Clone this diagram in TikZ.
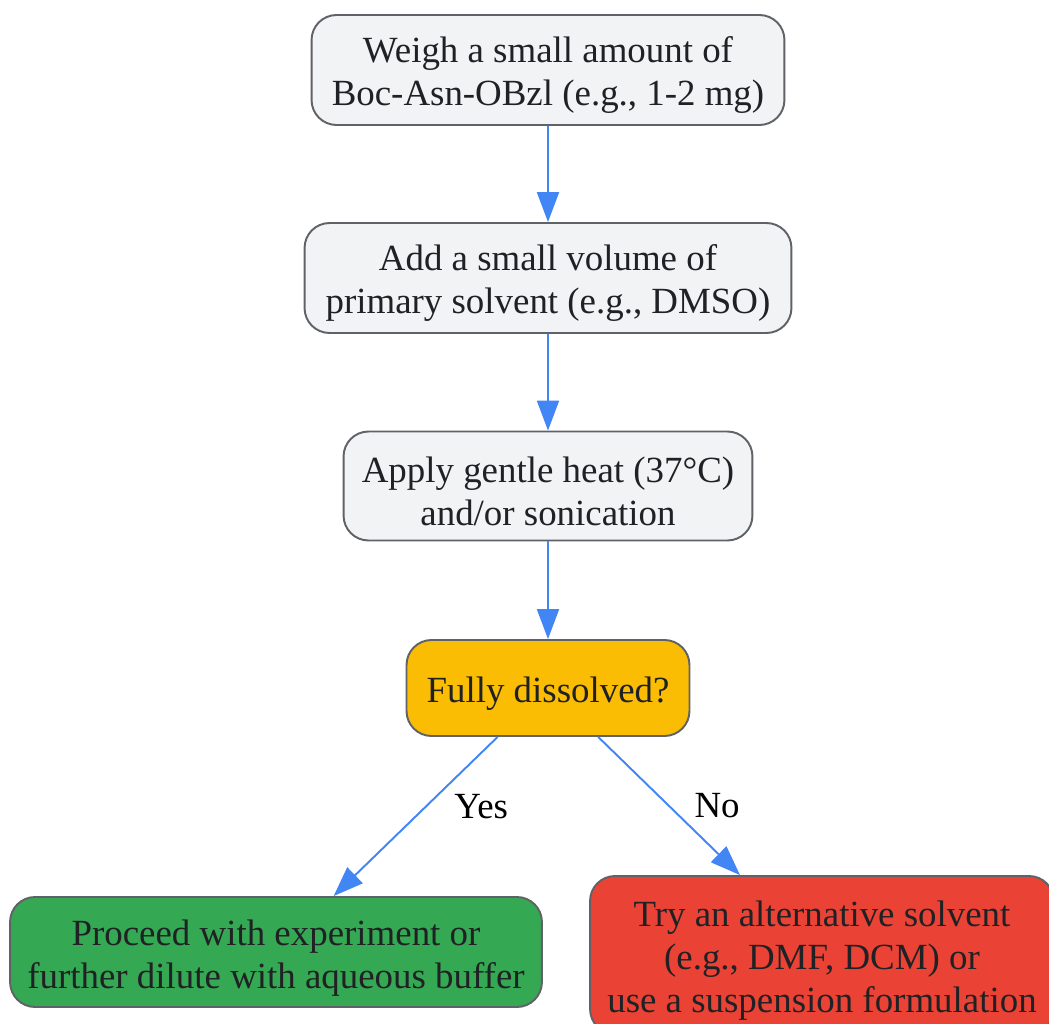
\documentclass[tikz,border=0pt]{standalone}
\usepackage{fontspec}
\setmainfont{Liberation Serif}
\usetikzlibrary{arrows.meta}

\definecolor{boxgray}{HTML}{F1F3F4}
\definecolor{edgegray}{HTML}{5F6368}
\definecolor{amber}{HTML}{FBBC04}
\definecolor{okgreen}{HTML}{34A853}
\definecolor{badred}{HTML}{EA4335}
\definecolor{flowblue}{HTML}{4285F4}
\definecolor{inkgray}{HTML}{202124}
\newcommand{\boxstrut}{\rule{0pt}{1em}}

\begin{document}
\begin{tikzpicture}[x=0.02cm,y=-0.02cm,
		stepbox/.style={draw=edgegray,line width=1.1pt,rounded corners=0.5cm,fill=boxgray,
			align=center,text=inkgray,inner sep=0pt,
			font=\fontsize{21pt}{24.5pt}\selectfont},
		flow/.style={draw=flowblue,line width=1.1pt,-{Triangle[length=17pt,width=12.5pt]}},
		lbl/.style={inner sep=0pt,font=\fontsize{21pt}{24.5pt}\selectfont}]
			\useasboundingbox (0,0) rectangle (1049,1024);
			\clip (0,0) rectangle (1049,1024);
			\node[stepbox,minimum width=9.46cm,minimum height=2.2cm] (weigh) at (548,70) {\boxstrut Weigh a small amount of\\Boc-Asn-OBzl (e.g., 1-2 mg)};
			\node[stepbox,minimum width=9.74cm,minimum height=2.2cm] (addsolv) at (548,278) {\boxstrut Add a small volume of\\primary solvent (e.g., DMSO)};
			\node[stepbox,minimum width=8.18cm,minimum height=2.18cm] (heat) at (548,486) {\boxstrut Apply gentle heat (37°C)\\and/or sonication};
			\node[stepbox,fill=amber,minimum width=5.66cm,minimum height=1.92cm] (dissolved) at (548,688) {\boxstrut Fully dissolved?};
			\node[stepbox,fill=okgreen,minimum width=10.64cm,minimum height=2.2cm] (proceed) at (276,952) {\boxstrut Proceed with experiment or\\further dilute with aqueous buffer};
			\node[stepbox,fill=badred,minimum width=9.28cm,minimum height=3.16cm] (altsolv) at (822,955) {\boxstrut Try an alternative solvent\\(e.g., DMF, DCM) or\\use a suspension formulation};

			\draw[flow] (weigh) -- (addsolv);
			\draw[flow] (addsolv) -- (heat);
			\draw[flow] (heat) -- (dissolved);
			\draw[flow] (dissolved) -- node[lbl,pos=0.44,right=0.56cm]{Yes} (proceed);
			\draw[flow] (dissolved) -- node[lbl,pos=0.5,right=0.49cm]{No} (altsolv);
		\end{tikzpicture}
\end{document}
